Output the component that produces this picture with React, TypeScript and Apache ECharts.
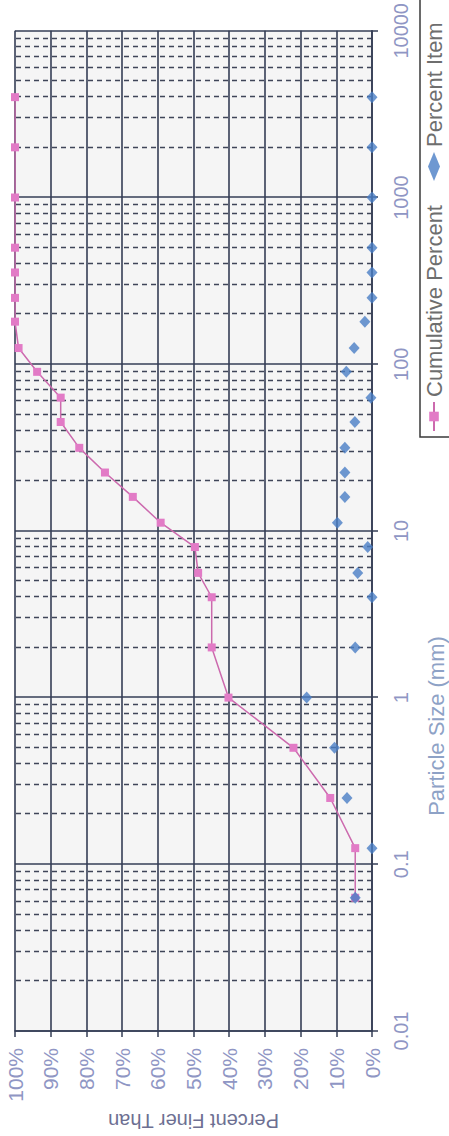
import React, { useEffect, useRef } from "react";
import * as echarts from "echarts";

// Particle sizes (mm) and the two series
const sizes = [0.063, 0.125, 0.25, 0.5, 1, 2, 4, 5.6, 8, 11.2, 16, 22.4, 31.5, 45, 63, 90, 125, 180, 250, 355, 500, 1000, 2000, 4000];
const cumulativePercent = [4.7, 4.7, 11.7, 22.0, 40.2, 44.9, 44.9, 48.7, 49.6, 59.2, 67.0, 74.8, 82.0, 87.2, 87.2, 93.8, 99.0, 100, 100, 100, 100, 100, 100, 100];
const percentItem = [4.7, 0, 7.0, 10.5, 18.3, 4.7, 0, 4.0, 1.2, 9.7, 7.6, 7.6, 7.6, 4.8, 0.3, 7.2, 5.0, 2.0, 0, 0, 0, 0, 0, 0];

const sizeTickLabels = ["0.01", "0.1", "1", "10", "100", "1000", "10000"];
const decades = [0.01, 0.1, 1, 10, 100, 1000];
const minorMultipliers = [2, 3, 4, 5, 6, 7, 8, 9];

const seriesNames = ["Cumulative Percent", "Percent Item"];
const FONT = "'Liberation Sans', Arial, Helvetica, sans-serif";

export default function App() {
  const ref = useRef<HTMLDivElement>(null);

  useEffect(() => {
    if (!ref.current) return;
    const chart = echarts.init(ref.current, null, { renderer: "svg" });

    const minorLines: { xAxis: number }[] = [];
    decades.forEach((d) => minorMultipliers.forEach((m) => minorLines.push({ xAxis: +(d * m).toPrecision(6) })));

    const majorColor = "#353e56";
    const labelColor = "#8f96c4";

    chart.setOption({
      animation: false,
      backgroundColor: "#ffffff",
      textStyle: { fontFamily: FONT },
      grid: {
        left: 105,
        right: 28.5,
        top: 15,
        bottom: 77,
        show: true,
        backgroundColor: "#f5f5f5",
        borderWidth: 0,
      },
      xAxis: {
        type: "log",
        logBase: 10,
        min: 0.01,
        max: 10000,
        splitNumber: 6,
        axisLine: { show: true, onZero: false, lineStyle: { color: majorColor, width: 1.6 } },
        axisTick: { show: true, inside: false, length: 6, lineStyle: { color: majorColor, width: 1.5 } },
        axisLabel: {
          margin: 19,
          fontSize: 20,
          color: labelColor,
          fontFamily: FONT,
          formatter: (v: number) => {
            const i = Math.round(Math.log10(v)) + 2;
            return sizeTickLabels[i] ?? String(v);
          },
        },
        splitLine: { show: true, lineStyle: { color: majorColor, width: 1.6 } },
        minorTick: { show: false },
        minorSplitLine: { show: false },
      },
      yAxis: {
        type: "value",
        min: 0,
        max: 100,
        interval: 10,
        axisLine: { show: true, onZero: false, lineStyle: { color: majorColor, width: 1.6 } },
        axisTick: { show: true, inside: false, length: 6, lineStyle: { color: majorColor, width: 1.5 } },
        axisLabel: { margin: 17, fontSize: 21, color: labelColor, fontFamily: FONT, formatter: "{value}%" },
        splitLine: { show: true, lineStyle: { color: majorColor, width: 1.6 } },
      },
      legend: {
        data: seriesNames,
        left: 699,
        top: 420,
        width: 480,
        orient: "horizontal",
        itemWidth: 29,
        itemHeight: 12,
        itemGap: 24,
        padding: [3, 40, 20, 5],
        borderColor: "#3a3a3a",
        borderWidth: 1.5,
        textStyle: { fontSize: 22, color: "#6e6e6e", fontFamily: FONT },
      },
      series: [
        {
          name: "minor-grid",
          type: "line",
          data: [],
          silent: true,
          z: 1,
          markLine: {
            silent: true,
            z: 1,
            symbol: ["none", "none"],
            label: { show: false },
            emphasis: { disabled: true },
            lineStyle: { color: "#3f4558", width: 1.4, type: [5, 4] },
            data: minorLines,
          },
        },
        {
          name: seriesNames[0],
          type: "line",
          z: 3,
          data: sizes.map((s, i) => [s, cumulativePercent[i]]),
          symbol: "rect",
          symbolSize: 8,
          lineStyle: { color: "#cc6aae", width: 1.5 },
          itemStyle: { color: "#e27bc6" },
        },
        {
          name: seriesNames[1],
          type: "scatter",
          z: 4,
          data: sizes.map((s, i) => [s, percentItem[i]]),
          symbol: "diamond",
          symbolSize: [12, 11],
          itemStyle: { color: "#4a7ec6" },
        },
      ],
      graphic: [
        {
          type: "text",
          x: 410,
          y: 436,
          style: {
            text: "Particle Size (mm)",
            fontSize: 22,
            fontFamily: FONT,
            fill: "#8ea2c6",
            align: "center",
            verticalAlign: "middle",
          },
        },
        {
          type: "text",
          x: 15,
          y: 193.5,
          rotation: Math.PI / 2,
          style: {
            text: "Percent Finer Than",
            fontSize: 20,
            fontFamily: FONT,
            fill: "#6d6f92",
            align: "center",
            verticalAlign: "middle",
          },
        },
      ],
    });

    return () => chart.dispose();
  }, []);

  return (
    <div
      style={{
        position: "fixed",
        left: 0,
        top: 0,
        width: 449,
        height: 1136,
        overflow: "hidden",
        background: "#ffffff",
      }}
    >
      <div
        ref={ref}
        style={{
          position: "absolute",
          left: 0,
          top: 0,
          width: 1136,
          height: 449,
          transformOrigin: "0 0",
          transform: "translateY(1136px) rotate(-90deg)",
        }}
      />
    </div>
  );
}
